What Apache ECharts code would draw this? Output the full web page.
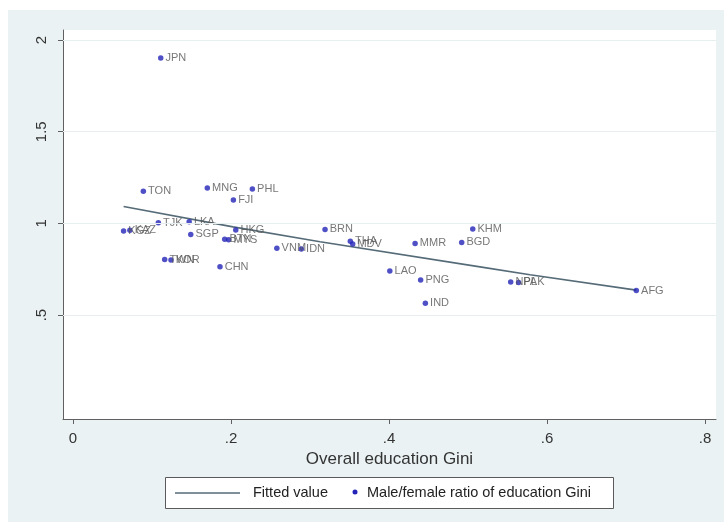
<!DOCTYPE html>
<html>
<head>
<meta charset="utf-8">
<script src="https://cdn.jsdelivr.net/npm/echarts@6/dist/echarts.min.js"></script>
<style>
  html, body { margin: 0; padding: 0; background: #ffffff; }
  #panel { position: absolute; left: 8px; top: 10px; width: 716px; height: 512px; background: #eaf2f3; }
  #chart { position: absolute; left: 0; top: 0; width: 724px; height: 531px; }
</style>
</head>
<body>
<div id="panel"></div>
<div id="chart"></div>
<script>
// Country codes with overall education Gini and the male/female ratio of education Gini
const countries = ['JPN','TON','MNG','PHL','FJI','TJK','LKA','KGZ','KAZ','SGP','HKG','BTN','MYS',
                   'VNM','IDN','TWN','KOR','CHN','BRN','THA','MDV','MMR','BGD','KHM','LAO','PNG',
                   'IND','NPL','PAK','AFG'];
const giniOverall = [0.111,0.089,0.170,0.227,0.203,0.108,0.147,0.064,0.072,0.149,0.206,0.192,0.197,
                     0.258,0.289,0.116,0.124,0.186,0.319,0.351,0.354,0.433,0.492,0.506,0.401,0.440,
                     0.446,0.554,0.564,0.713];
const genderRatio = [1.902,1.176,1.193,1.187,1.127,1.003,1.009,0.958,0.963,0.940,0.964,0.913,0.911,
                     0.864,0.861,0.803,0.800,0.763,0.967,0.903,0.887,0.891,0.896,0.969,0.741,0.691,
                     0.564,0.681,0.678,0.634];

// Fitted values along the overall Gini range
const fitX = [0.064, 0.2025, 0.3127, 0.5152, 0.5785, 0.713];
const fitY = [1.092, 0.981, 0.900, 0.763, 0.720, 0.636];

// Axis ticks
const xTicks = [0, 0.2, 0.4, 0.6, 0.8];
const yTicks = [0.5, 1, 1.5, 2];

const FONT = '"Liberation Sans", Arial, sans-serif';
const LINE_COLOR = '#566b78';
const DOT_COLOR = '#2424b8';

function stataNum(v) {
  if (v === 0) return '0';
  const s = String(+v.toFixed(4));
  return s.replace(/^0\./, '.');
}

const chart = echarts.init(document.getElementById('chart'), null, { renderer: 'canvas' });

chart.setOption({
  backgroundColor: 'transparent',
  animation: false,
  grid: {
    left: 63, right: 8, top: 30, bottom: 112,
    show: true, backgroundColor: '#ffffff', borderWidth: 0
  },
  xAxis: {
    type: 'value',
    min: -0.0127, max: 0.8139,
    name: 'Overall education Gini',
    nameLocation: 'middle',
    nameGap: 31,
    nameTextStyle: { fontFamily: FONT, fontSize: 17, color: '#333' },
    axisLine: { show: true, onZero: false, lineStyle: { color: '#606060', width: 1 } },
    axisTick: { show: true, length: 5, customValues: xTicks, lineStyle: { color: '#606060' } },
    axisLabel: {
      customValues: xTicks, formatter: stataNum, margin: 12,
      fontFamily: FONT, fontSize: 15, color: '#333'
    },
    splitLine: { show: false }
  },
  yAxis: {
    type: 'value',
    min: -0.067, max: 2.055,
    axisLine: { show: true, onZero: false, lineStyle: { color: '#606060', width: 1 } },
    axisTick: { show: true, length: 5, customValues: yTicks, lineStyle: { color: '#606060' } },
    axisLabel: {
      customValues: yTicks, formatter: stataNum, margin: 14, rotate: 90,
      fontFamily: FONT, fontSize: 15, color: '#333'
    },
    splitLine: { show: false }
  },
  series: [
    {
      name: 'Fitted value',
      type: 'line',
      data: fitX.map((x, i) => [x, fitY[i]]),
      showSymbol: false,
      symbol: 'none',
      lineStyle: { color: LINE_COLOR, width: 1.6 },
      z: 2,
      silent: true,
      markLine: {
        silent: true,
        symbol: 'none',
        label: { show: false },
        lineStyle: { color: '#e6eef0', width: 1, type: 'solid' },
        data: yTicks.map(v => ({ yAxis: v }))
      }
    },
    {
      name: 'Male/female ratio of education Gini',
      type: 'scatter',
      data: countries.map((c, i) => [giniOverall[i], genderRatio[i], c]),
      symbol: 'circle',
      symbolSize: 5.5,
      itemStyle: { color: DOT_COLOR },
      z: 3,
      label: {
        show: true,
        position: 'right',
        distance: 2,
        formatter: p => p.data[2],
        fontFamily: FONT,
        fontSize: 11,
        color: '#555'
      }
    }
  ],
  graphic: [
    { type: 'rect', shape: { x: 165.5, y: 477.5, width: 448, height: 31 },
      style: { fill: '#ffffff', stroke: '#5a5a5a', lineWidth: 1 } },
    { type: 'line', shape: { x1: 175, y1: 493, x2: 240, y2: 493 },
      style: { stroke: LINE_COLOR, lineWidth: 1.6 } },
    { type: 'text', x: 253, y: 493,
      style: { text: 'Fitted value', fontFamily: FONT, fontSize: 14.5, fill: '#222', verticalAlign: 'middle' } },
    { type: 'circle', shape: { cx: 355, cy: 492, r: 2.5 }, style: { fill: DOT_COLOR } },
    { type: 'text', x: 367, y: 493,
      style: { text: 'Male/female ratio of education Gini', fontFamily: FONT, fontSize: 14.5, fill: '#222', verticalAlign: 'middle' } }
  ]
});
</script>
</body>
</html>
